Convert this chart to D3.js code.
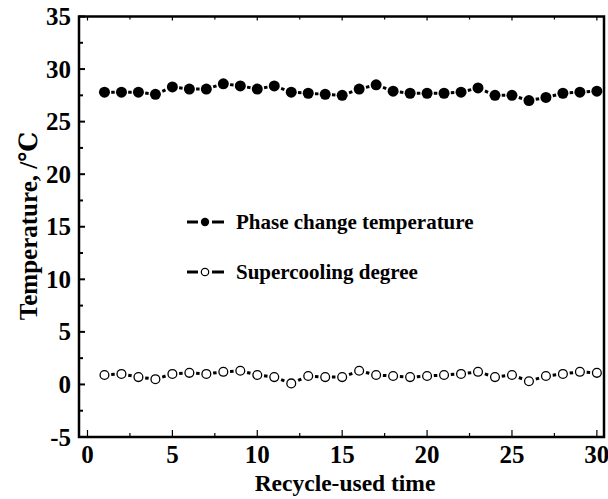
<!DOCTYPE html>
<html>
<head>
<meta charset="utf-8">
<script src="https://cdn.jsdelivr.net/npm/d3@7/dist/d3.min.js"></script>
<style>
  html, body { margin: 0; padding: 0; background: #fff; }
  svg { display: block; }
  text { font-family: "Liberation Serif", "DejaVu Serif", serif; font-weight: bold; fill: #000; }
</style>
</head>
<body>
<svg id="chart" width="608" height="499"></svg>
<script>
// Recycle runs 1..30
const cycles = d3.range(1, 31);
// Phase change temperature (°C) per cycle
const phaseTemp = [27.8, 27.8, 27.8, 27.6, 28.3, 28.1, 28.1, 28.6, 28.4, 28.1,
                   28.4, 27.8, 27.7, 27.6, 27.5, 28.1, 28.5, 27.9, 27.7, 27.7,
                   27.7, 27.8, 28.2, 27.5, 27.5, 27.0, 27.3, 27.7, 27.8, 27.9];
// Supercooling degree (°C) per cycle
const superCool = [0.9, 1.0, 0.7, 0.5, 1.0, 1.1, 1.0, 1.2, 1.3, 0.9,
                   0.7, 0.1, 0.8, 0.7, 0.7, 1.3, 0.9, 0.8, 0.7, 0.8,
                   0.9, 1.0, 1.2, 0.7, 0.9, 0.3, 0.8, 1.0, 1.2, 1.1];
const xTicks = [0, 5, 10, 15, 20, 25, 30];
const yTicks = [-5, 0, 5, 10, 15, 20, 25, 30, 35];
const seriesNames = ["Phase change temperature", "Supercooling degree"];

const svg = d3.select("#chart");
const L = 79, R = 604, T = 16.5, B = 437;

const x = d3.scaleLinear().domain([-0.5, 30.42]).range([L, R]);
const y = d3.scaleLinear().domain([-5, 35]).range([B, T]);

// minor tick positions
const xMinor = d3.range(0, 30.01, 2.5);
const yMinor = d3.range(-5, 35.01, 2.5);

const ax = svg.append("g");
// left ticks (inward)
ax.selectAll(".ly").data(yMinor).join("line")
  .attr("x1", L).attr("x2", d => L + (d % 5 === 0 ? 6 : 4))
  .attr("y1", d => y(d)).attr("y2", d => y(d))
  .attr("stroke", "#000").attr("stroke-width", 2);
// top ticks (inward)
ax.selectAll(".tx").data(xMinor).join("line")
  .attr("x1", d => x(d)).attr("x2", d => x(d))
  .attr("y1", T).attr("y2", d => T + (d % 5 === 0 ? 4 : 3))
  .attr("stroke", "#000").attr("stroke-width", 1.2);
// bottom ticks (inward)
ax.selectAll(".bx").data(xMinor).join("line")
  .attr("x1", d => x(d)).attr("x2", d => x(d))
  .attr("y1", B).attr("y2", d => B - (d % 5 === 0 ? 7 : 4))
  .attr("stroke", "#000").attr("stroke-width", 1.2);

// frame
svg.append("rect").attr("x", L).attr("y", T).attr("width", R - L).attr("height", B - T)
  .attr("fill", "none").attr("stroke", "#000").attr("stroke-width", 2.5);

// tick labels
svg.append("g").selectAll("text").data(yTicks).join("text")
  .attr("x", 71).attr("y", d => y(d)).attr("dy", "0.34em")
  .attr("text-anchor", "end").attr("font-size", 25).text(d => d);
svg.append("g").selectAll("text").data(xTicks).join("text")
  .attr("x", d => x(d)).attr("y", 463)
  .attr("text-anchor", "middle").attr("font-size", 25).text(d => d);

// axis titles
svg.append("text").attr("x", 345).attr("y", 491).attr("text-anchor", "middle")
  .attr("font-size", 23.5).text("Recycle-used time");
svg.append("text").attr("transform", "translate(28,226) rotate(-90)").attr("dy", "0.34em")
  .attr("text-anchor", "middle").attr("font-size", 25).text("Temperature, /℃");

// dashed connectors: one short dash centred between neighbouring points
function connectors(vals) {
  const g = svg.append("g");
  for (let i = 0; i < vals.length - 1; i++) {
    const x1 = x(cycles[i]), y1 = y(vals[i]), x2 = x(cycles[i + 1]), y2 = y(vals[i + 1]);
    const len = Math.hypot(x2 - x1, y2 - y1);
    const dash = 3.5, gap = 3.5, p = dash + gap;
    const start = len / 2 - dash / 2;
    const off = ((-start % p) + p) % p;
    g.append("line").attr("x1", x1).attr("y1", y1).attr("x2", x2).attr("y2", y2)
      .attr("stroke", "#000").attr("stroke-width", 3)
      .attr("stroke-dasharray", `${dash} ${gap}`).attr("stroke-dashoffset", off);
  }
}
connectors(phaseTemp);
connectors(superCool);

svg.append("g").selectAll("circle").data(phaseTemp).join("circle")
  .attr("cx", (d, i) => x(cycles[i])).attr("cy", d => y(d)).attr("r", 5.5)
  .attr("fill", "#000");
svg.append("g").selectAll("circle").data(superCool).join("circle")
  .attr("cx", (d, i) => x(cycles[i])).attr("cy", d => y(d)).attr("r", 4.4)
  .attr("fill", "#fff").attr("stroke", "#000").attr("stroke-width", 1.3);

// legend
const lg = svg.append("g");
const rows = [222, 272];
seriesNames.forEach((name, i) => {
  const cy = rows[i];
  lg.append("line").attr("x1", 187).attr("x2", 198).attr("y1", cy).attr("y2", cy)
    .attr("stroke", "#000").attr("stroke-width", 3);
  lg.append("line").attr("x1", 212).attr("x2", 224).attr("y1", cy).attr("y2", cy)
    .attr("stroke", "#000").attr("stroke-width", 3);
  lg.append("circle").attr("cx", 205).attr("cy", cy).attr("r", i === 0 ? 4.2 : 3.7)
    .attr("fill", i === 0 ? "#000" : "#fff").attr("stroke", "#000")
    .attr("stroke-width", i === 0 ? 0 : 1.2);
  lg.append("text").attr("x", 236).attr("y", cy).attr("dy", "0.34em")
    .attr("font-size", 21).text(name);
});
</script>
</body>
</html>
